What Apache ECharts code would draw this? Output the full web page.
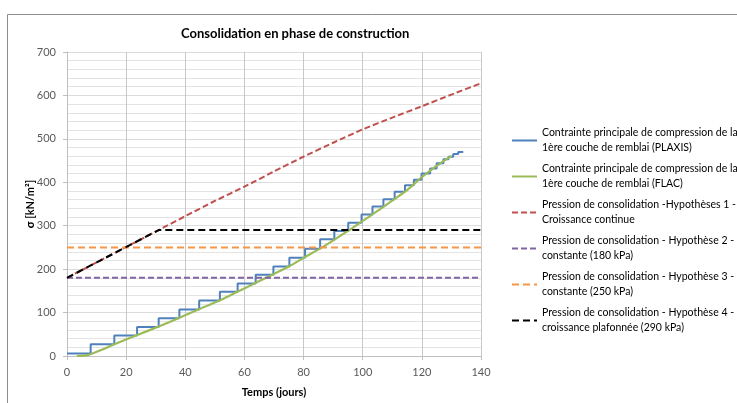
<!DOCTYPE html>
<html><head><meta charset="utf-8">
<script src="https://cdn.jsdelivr.net/npm/echarts@6/dist/echarts.min.js"></script>
<style>html,body{margin:0;padding:0;background:#fff}#c{width:737px;height:403px}</style>
</head><body><div id="c"></div>
<script>
const seriesNames = [
  "Contrainte principale de compression de la\n1ère couche de remblai (PLAXIS)",
  "Contrainte principale de compression de la\n1ère couche de remblai (FLAC)",
  "Pression de consolidation -Hypothèses 1 -\nCroissance continue",
  "Pression de consolidation - Hypothèse 2 -\nconstante (180 kPa)",
  "Pression de consolidation - Hypothèse 3 -\nconstante (250 kPa)",
  "Pression de consolidation - Hypothèse 4 -\ncroissance plafonnée (290 kPa)"
];
const plaxisDays = [0, 8, 16, 23.7, 31, 38, 44.7, 51.7, 57.7, 63.8, 69.8, 75.2, 80.5, 85.6, 90.4, 95.1, 99.6, 103.3, 107, 110.8, 114.3, 117.3, 119.9, 122.8, 125, 127.3, 129, 130.6, 132.3, 134];
const plaxisValues = [6, 27, 47, 67, 87, 107, 128, 148, 167, 187, 206, 226, 247, 269, 288, 307, 326, 344, 361, 378, 393, 406, 420, 432, 444, 453, 459, 465, 470, 470];
const flacDays = [3.3, 7, 12, 16, 24, 31, 38, 45, 52, 58, 64, 70, 75, 80, 86, 90, 95, 100, 105, 110, 115, 120, 125, 130];
const flacValues = [0, 2, 15, 27, 49, 68, 88, 109, 129, 149, 169, 189, 206, 226, 249, 266, 288, 311, 334, 358, 382, 412, 438, 461];
const h1Days = [0, 31, 40, 50, 60, 70, 80, 90, 100, 110, 120, 130, 140];
const h1Values = [180, 290, 322, 357, 390, 425, 459, 491, 522, 549, 575, 602, 628];
const h2Days = [0, 140];
const h2Values = [180, 180];
const h3Days = [0, 140];
const h3Values = [250, 250];
const h4Days = [0, 31, 140];
const h4Values = [180, 290, 290];
const xTicks = [0, 20, 40, 60, 80, 100, 120, 140];
const yTicks = [0, 100, 200, 300, 400, 500, 600, 700];

const pts = (xs, ys) => xs.map((x, i) => [x, ys[i]]);
const FONT = 'Lato';

const chart = echarts.init(document.getElementById('c'));
chart.setOption({
  animation: false,
  backgroundColor: '#fff',
  title: {
    text: 'Consolidation en phase de construction',
    left: 176, top: 22,
    textStyle: {fontFamily: FONT, fontWeight: 'bold', fontSize: 13, color: '#000'}
  },
  graphic: [{
    type: 'rect', shape: {x: 7.5, y: 14.5, width: 800, height: 500},
    style: {fill: 'none', stroke: '#8c8c8c', lineWidth: 1}, silent: true
  }],
  grid: {left: 67, right: 256, top: 52, bottom: 47, containLabel: false},
  xAxis: {
    type: 'value', min: 0, max: 140, interval: 20,
    name: 'Temps (jours)', nameLocation: 'middle', nameGap: 31,
    nameTextStyle: {fontFamily: FONT, fontWeight: 'bold', fontSize: 11, color: '#000'},
    axisLine: {show: true, lineStyle: {color: '#bfbfbf', width: 1}},
    axisTick: {show: true, length: 4, lineStyle: {color: '#bfbfbf'}},
    axisLabel: {fontFamily: FONT, fontSize: 11, color: '#595959', margin: 11,
      formatter: v => xTicks.includes(v) ? String(v) : ''},
    splitLine: {show: true, lineStyle: {color: '#c8c8c8', width: 1}}
  },
  yAxis: {
    type: 'value', min: 0, max: 700, interval: 100,
    name: 'σ [kN/m²]', nameLocation: 'middle', nameGap: 37, nameRotate: 90,
    nameMoveOverlap: false,
    nameTextStyle: {fontFamily: FONT, fontWeight: 'bold', fontSize: 11, color: '#000', verticalAlign: 'middle'},
    axisLine: {show: true, lineStyle: {color: '#bfbfbf', width: 1}},
    axisTick: {show: true, length: 4, lineStyle: {color: '#bfbfbf'}},
    minorTick: {show: false, splitNumber: 5},
    axisLabel: {fontFamily: FONT, fontSize: 11, color: '#595959', margin: 11,
      formatter: v => yTicks.includes(v) ? String(v) : ''},
    splitLine: {show: true, lineStyle: {color: '#dcdcdc', width: 1}},
    minorSplitLine: {show: true, lineStyle: {color: '#e3e3e3', width: 1}}
  },
  legend: {
    orient: 'vertical', left: 506, top: 113,
    itemWidth: 25, itemHeight: 10, itemGap: -9,
    itemStyle: {opacity: 0},
    textStyle: {fontFamily: FONT, fontSize: 10.5, color: '#000', lineHeight: 15, padding: [15, 0, 0, 0]},
    data: seriesNames
  },
  series: [
    {name: seriesNames[0], type: 'line', step: 'end', data: pts(plaxisDays, plaxisValues), symbol: 'none',
      lineStyle: {color: '#4f81bd', width: 2}, itemStyle: {color: '#4f81bd'}},
    {name: seriesNames[1], type: 'line', smooth: 0.3, data: pts(flacDays, flacValues), symbol: 'none',
      lineStyle: {color: '#9bbb59', width: 2.2}, itemStyle: {color: '#9bbb59'}},
    {name: seriesNames[2], type: 'line', smooth: 0.2, data: pts(h1Days, h1Values), symbol: 'none',
      lineStyle: {color: '#c0504d', width: 2, type: [6, 3]}, itemStyle: {color: '#c0504d'}},
    {name: seriesNames[3], type: 'line', data: pts(h2Days, h2Values), symbol: 'none',
      lineStyle: {color: '#8064a2', width: 2, type: [6, 3]}, itemStyle: {color: '#8064a2'}},
    {name: seriesNames[4], type: 'line', data: pts(h3Days, h3Values), symbol: 'none',
      lineStyle: {color: '#f79646', width: 2, type: [7, 4]}, itemStyle: {color: '#f79646'}},
    {name: seriesNames[5], type: 'line', data: pts(h4Days, h4Values), symbol: 'none',
      lineStyle: {color: '#000000', width: 2, type: [7, 4]}, itemStyle: {color: '#000000'}}
  ]
});
</script></body></html>
